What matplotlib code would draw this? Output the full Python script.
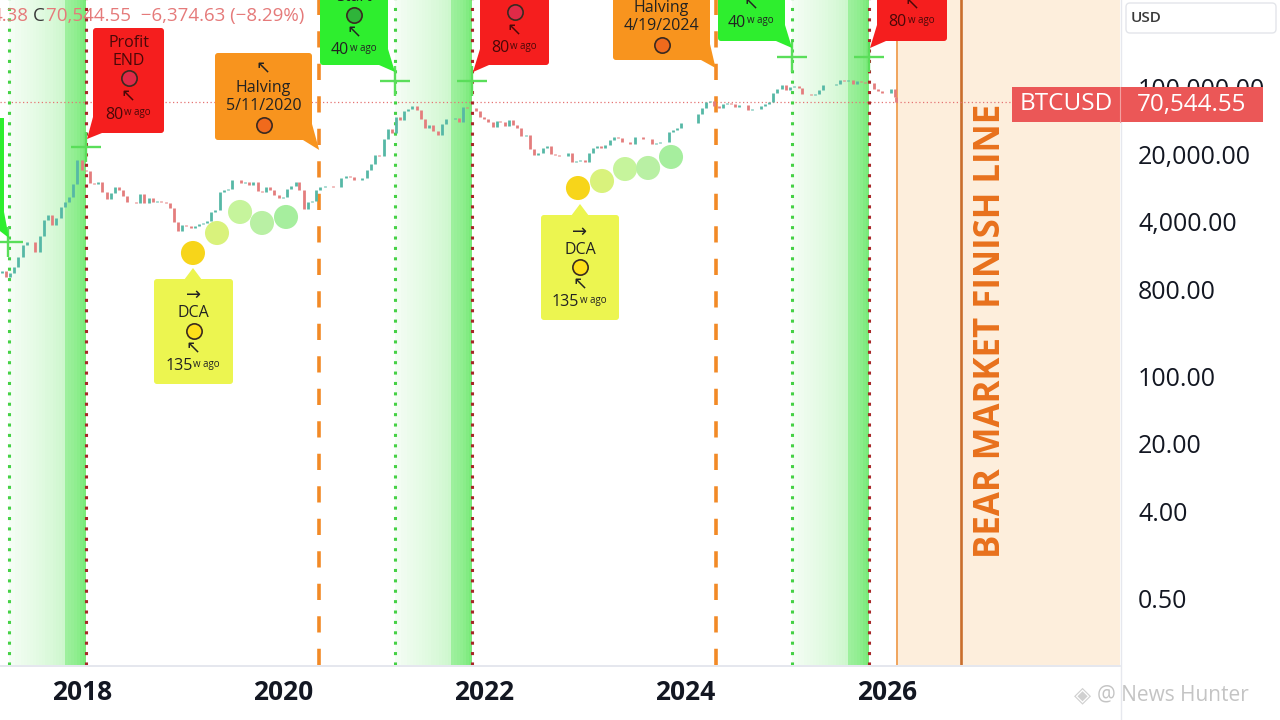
import numpy as np
import pandas as pd
import matplotlib
matplotlib.use("Agg")
import matplotlib.pyplot as plt
from matplotlib.patches import FancyBboxPatch, Polygon, Rectangle

# ---------------- data ----------------
# semi-monthly BTC closes (15th / month end), starting 2017-02-28
p2017 = [1190, 1250, 1070, 1180, 1350, 1750, 2300, 2450, 2480, 1950, 2850,
         4200, 4700, 3700, 4350, 5700, 6450, 7300, 9900, 17700, 13800]
p2018 = [13600, 10200, 10000, 10300, 8200, 6900, 8000, 9200, 8500, 7500, 6500, 6400,
         6300, 7700, 6300, 7000, 6500, 6600, 6400, 6300, 5600, 4000, 3200, 3700]
p2019 = [3600, 3450, 3600, 3800, 3900, 4100, 5100, 5300, 8200, 8550, 8800, 10800,
         10900, 10100, 10300, 9600, 10300, 8300, 8100, 9200, 8500, 7550, 7100, 7200]
p2020 = [8800, 9350, 10350, 8550, 5400, 6400, 6650, 8650, 9300, 9450, 9450, 9150,
         9200, 11350, 11900, 11650, 10800, 10800, 11500, 13800, 16000, 19700, 19400, 29000]
p2021 = [36800, 33100, 48700, 45200, 55900, 58900, 63200, 57800, 46700, 37300, 40200, 35000,
         31800, 41500, 47000, 47100, 48200, 43800, 61600, 61300, 60000, 57000, 48900, 46300]
p2022 = [43100, 38500, 44500, 43200, 39300, 45500, 40500, 37700, 31300, 31800, 22600, 19900,
         20800, 23300, 24300, 20000, 19700, 19400, 19100, 20500, 16900, 17200, 17400, 16550]
p2023 = [20900, 23100, 24300, 23100, 24800, 28500, 30300, 29300, 27200, 27200, 25600, 30500,
         30300, 29200, 29200, 25900, 26600, 26970, 26900, 34500, 35600, 37700, 42000, 42300]
p2024 = [42500, 42600, 51900, 61200, 69500, 71300, 63400, 60600, 66200, 67500, 66200, 62700,
         64800, 64600, 57500, 58900, 59100, 63300, 66000, 70200, 87500, 96400, 104400, 93400]
p2025 = [100500, 102400, 97500, 84300, 84300, 82500, 83700, 94200, 103700, 104600, 105500, 107100,
         117700, 115700, 117400, 108200, 115300, 114000, 111000, 109500, 94500, 90400, 86000, 87500]
p2026 = [95500, 78600]
last_date = "2026-02-05"
last_close = 70544.55

cycle_start = [2017.274, 2021.111, 2025.058]
cycle_end = [2018.040, 2021.877, 2025.823]
halvings = [2020.358, 2024.298]
bear_start = 2026.10
bear_line = 2026.738

dca1_x = [2019.103, 2019.342, 2019.571, 2019.789, 2020.028]
dca1_y = [1905, 3070, 5070, 3900, 4500]
dca2_x = [2022.930, 2023.169, 2023.398, 2023.627, 2023.855]
dca2_y = [8980, 10620, 14130, 14490, 18840]
dca_colors = ["#f7d51a", "#d9f27c", "#c6f49c", "#b9f0a4", "#a6ee9e"]

cross_x = [2017.26, 2018.040, 2021.111, 2021.877, 2025.058, 2025.823]
cross_y = [2480, 23900, 115400, 115400, 204800, 204800]

ytick_vals = [100000, 20000, 4000, 800, 100, 20, 4, 0.5]
ytick_labels = ["100,000.00", "20,000.00", "4,000.00", "800.00", "100.00", "20.00", "4.00", "0.50"]
xtick_years = [2018, 2020, 2022, 2024, 2026]

header_parts = ["4.38", "C", "70,544.55  \u22126,374.63 (\u22128.29%)"]

# ---------------- build series ----------------
closes = p2017 + p2018 + p2019 + p2020 + p2021 + p2022 + p2023 + p2024 + p2025 + p2026
try:
    dates = pd.date_range("2017-02-28", "2026-01-31", freq="SME")
except Exception:
    dates = pd.date_range("2017-02-28", "2026-01-31", freq="SM")
n = min(len(dates), len(closes))
dates = list(dates[:n]) + [pd.Timestamp(last_date)]
closes = list(closes[:n]) + [last_close]


def dec_year(ts):
    s = pd.Timestamp(year=ts.year, month=1, day=1)
    e = pd.Timestamp(year=ts.year + 1, month=1, day=1)
    return ts.year + (ts - s) / (e - s)


xs = np.array([dec_year(t) for t in dates])
cs = np.array(closes, dtype=float)

# ---------------- figure ----------------
W, H = 1280, 720
fig = plt.figure(figsize=(12.8, 7.2), dpi=100)
fig.patch.set_facecolor("white")
ax = fig.add_axes([0, 55 / H, 1120 / W, 665 / H])
ax.set_facecolor("white")
ax.set_yscale("log")
ax.set_xlim(2017.1849, 2028.318)
ax.set_ylim(10 ** -0.9896, 10 ** 5.9016)
for s in ax.spines.values():
    s.set_visible(False)

# green cycle zones (gradient)
nb = 26
for s0, e0 in zip(cycle_start, cycle_end):
    for i in range(nb):
        t = i / (nb - 1)
        a = 0.05 + 0.24 * t + (0.22 if t > 0.72 else 0) + 0.15 * t ** 6
        ax.axvspan(s0 + (e0 - s0) * i / nb, s0 + (e0 - s0) * (i + 1) / nb,
                   color="#35e035", alpha=min(a, 0.75), lw=0, zorder=0)
    ax.axvline(s0, color="#45d145", ls=(0, (1, 2.4)), lw=2.2, zorder=2)
    ax.axvline(e0, color="#a82828", ls=(0, (1, 2.4)), lw=2.2, zorder=2)

# bear zone
ax.axvspan(bear_start, 2028.318, color="#fdeedc", lw=0, zorder=0)
ax.axvline(bear_start, color="#f0a45c", lw=1.4, zorder=1)
ax.axvline(bear_line, color="#c96e2c", lw=1.9, zorder=1)

# halving lines
for h in halvings:
    ax.axvline(h, color="#f28a26", ls=(0, (4.5, 4.5)), lw=2.6, zorder=2)

# last price line
ax.axhline(last_close, color="#e57373", ls=(0, (1, 2)), lw=0.9, zorder=1)

# candles (open = previous close)
up_c, dn_c = "#56b8a6", "#e47d7d"
for i in range(1, len(xs)):
    col = up_c if cs[i] >= cs[i - 1] else dn_c
    ax.vlines(xs[i], cs[i - 1], cs[i], color=col, lw=2.0, zorder=3)

# crosshairs
ax.plot(cross_x, cross_y, "+", ms=22, mew=1.7, color="#5ade5a", zorder=6, ls="none")

# DCA circles
ax.scatter(dca1_x, dca1_y, s=300, c=dca_colors, edgecolors="none", zorder=7)
ax.scatter(dca2_x, dca2_y, s=300, c=dca_colors, edgecolors="none", zorder=7)

# axes ticks
ax.yaxis.tick_right()
ax.set_yticks(ytick_vals)
ax.set_yticklabels(ytick_labels)
ax.yaxis.set_minor_locator(matplotlib.ticker.NullLocator())
ax.tick_params(axis="y", length=0, pad=13, labelsize=18, labelcolor="#131722")
for lb in ax.get_yticklabels():
    lb.set_fontfamily(["Open Sans", "DejaVu Sans"])
ax.set_xticks(xtick_years)
ax.set_xticklabels([str(y) for y in xtick_years])
ax.xaxis.set_minor_locator(matplotlib.ticker.NullLocator())
ax.tick_params(axis="x", length=0, pad=10, labelsize=19, labelcolor="#131722")
for lb in ax.get_xticklabels():
    lb.set_fontweight("bold")
    lb.set_fontfamily(["Open Sans", "DejaVu Sans"])

# ---------------- overlay (pixel coordinates, y down) ----------------
ov = fig.add_axes([0, 0, 1, 1])
ov.set_xlim(0, W)
ov.set_ylim(H, 0)
ov.axis("off")


def px(xv):
    X, _ = ax.transData.transform((xv, 1000.0))
    return X


FAM = ["Open Sans", "DejaVu Sans"]


def callout(x0, y0, x1, y1, fc, tail, tip, items, tc, cc):
    ov.add_patch(FancyBboxPatch((x0, y0), x1 - x0, y1 - y0,
                                boxstyle="round,pad=0,rounding_size=3",
                                fc=fc, ec="none", zorder=10))
    tx, ty = tip
    if tail == "bl":
        poly = [(x0, y1 - 16), (tx, ty), (x0 + 9, y1)]
    elif tail == "br":
        poly = [(x1, y1 - 16), (tx, ty), (x1 - 9, y1)]
    else:  # top
        poly = [(tx - 9, y0 + 1), (tx, ty), (tx + 9, y0 + 1)]
    ov.add_patch(Polygon(poly, closed=True, fc=fc, ec="none", zorder=10))
    cx = (x0 + x1) / 2
    for kind, val, yy in items:
        if kind == "t":
            ov.text(cx, yy, val, ha="center", va="center", fontsize=11.5,
                    color=tc, family=FAM, zorder=11)
        elif kind == "a":
            ov.text(cx, yy, val, ha="center", va="center", fontsize=13,
                    color=tc, family=["DejaVu Sans"], zorder=11)
        elif kind == "c":
            ov.plot(cx, yy, "o", ms=11, mfc=cc, mec="#3a2a20", mew=1.2, zorder=11)
        elif kind == "w":
            wn = 8.3 * len(val)
            total = wn + 27
            nr = cx - total / 2 + wn
            ov.text(nr, yy, val, ha="right", va="center", fontsize=11.5,
                    color=tc, family=FAM, zorder=11)
            ov.text(nr + 1, yy - 2, "w ago", ha="left", va="center", fontsize=7,
                    color=tc, family=FAM, zorder=11)


red_fc, org_fc, grn_fc, yel_fc = "#f51e1e", "#f8941e", "#2eee2e", "#ecf550"
red_tc, dark_tc = "#4a0808", "#222222"

# partial green box at left edge
ov.add_patch(Rectangle((-40, 118), 44, 110, fc=grn_fc, ec="none", zorder=10))
ov.add_patch(Polygon([(4, 212), (px(cycle_start[0]), 238), (-4, 228)], fc=grn_fc, ec="none", zorder=10))

callout(93, 28, 164, 133, red_fc, "bl", (px(cycle_end[0]) + 1, 139),
        [("t", "Profit", 43), ("t", "END", 61), ("c", None, 78), ("a", "\u2196", 96), ("w", "80", 115)],
        red_tc, "#e02a48")
callout(215, 53, 312, 140, org_fc, "br", (px(halvings[0]), 150),
        [("a", "\u2196", 68), ("t", "Halving", 88), ("t", "5/11/2020", 106), ("c", None, 125)],
        dark_tc, "#f06a1c")
callout(320, -10, 388, 65, grn_fc, "br", (px(cycle_start[1]), 72),
        [("t", "Start", -3), ("c", None, 15), ("a", "\u2196", 32), ("w", "40", 50)],
        dark_tc, "#2fb43a")
callout(480, -10, 549, 65, red_fc, "bl", (px(cycle_end[1]) + 1, 72),
        [("c", None, 12), ("a", "\u2196", 30), ("w", "80", 48)],
        red_tc, "#e02a48")
callout(613, -10, 710, 60, org_fc, "br", (px(halvings[1]), 68),
        [("t", "Halving", 8), ("t", "4/19/2024", 26), ("c", None, 45)],
        dark_tc, "#f06a1c")
callout(718, -10, 785, 41, grn_fc, "br", (px(cycle_start[2]), 48),
        [("a", "\u2196", 4), ("w", "40", 23)],
        dark_tc, "#2fb43a")
callout(877, -10, 947, 41, red_fc, "bl", (px(cycle_end[2]) + 1, 48),
        [("a", "\u2196", 4), ("w", "80", 22)],
        red_tc, "#e02a48")
callout(154, 279, 233, 384, yel_fc, "top", (193, 268),
        [("a", "\u2192", 295), ("t", "DCA", 313), ("c", None, 331), ("a", "\u2196", 348), ("w", "135", 366)],
        dark_tc, "#ffe01a")
callout(541, 215, 619, 320, yel_fc, "top", (580, 204),
        [("a", "\u2192", 232), ("t", "DCA", 250), ("c", None, 267), ("a", "\u2196", 284), ("w", "135", 302)],
        dark_tc, "#ffe01a")

# bear market text
ov.text(991, 331, "BEAR MARKET FINISH LINE", rotation=90, ha="center", va="center",
        fontsize=25, color="#e8711c", fontweight="bold", family=FAM, zorder=9)

# frame lines
ov.plot([0, 1120], [665.5, 665.5], color="#e0e3eb", lw=1.2, zorder=8)
ov.plot([1120.5, 1120.5], [0, 720], color="#e6e8ee", lw=1.0, zorder=8)

# BTCUSD price label
ov.add_patch(Rectangle((1012, 87), 251, 35, fc="#eb5757", ec="none", zorder=12))
ov.plot([1120, 1120], [87, 122], color="#f4a0a0", lw=0.8, zorder=13)
ov.text(1066, 104.5, "BTCUSD", ha="center", va="center", fontsize=17.5, color="white",
        family=FAM, zorder=13)
ov.text(1192, 104.5, "70,544.55", ha="center", va="center", fontsize=17.5, color="white",
        family=FAM, zorder=13)

# USD box
ov.add_patch(FancyBboxPatch((1126, 3), 150, 30, boxstyle="round,pad=0,rounding_size=4",
                            fc="white", ec="#e3e5ea", lw=1.0, zorder=12))
ov.text(1131, 18, "USD", ha="left", va="center", fontsize=11, color="#3a3a3a",
        fontweight="semibold", family=FAM, zorder=13)

# header text
ov.text(-8, 16, header_parts[0], ha="left", va="center", fontsize=13.5, color="#e57a7a",
        family=FAM, zorder=13)
ov.text(33, 16, header_parts[1], ha="left", va="center", fontsize=13.5, color="#3a3a3a",
        family=FAM, zorder=13)
ov.text(46, 16, header_parts[2], ha="left", va="center", fontsize=13.5, color="#e57a7a",
        family=FAM, zorder=13)

# watermark
ov.text(1083, 695, "\u25c8", ha="center", va="center", fontsize=16, color="#d0d0d0",
        family=["DejaVu Sans"], zorder=13)
ov.text(1097, 695, "@ News Hunter", ha="left", va="center", fontsize=15, color="#c4c4c4",
        family=FAM, zorder=13)

fig.savefig("out.png", dpi=100)
